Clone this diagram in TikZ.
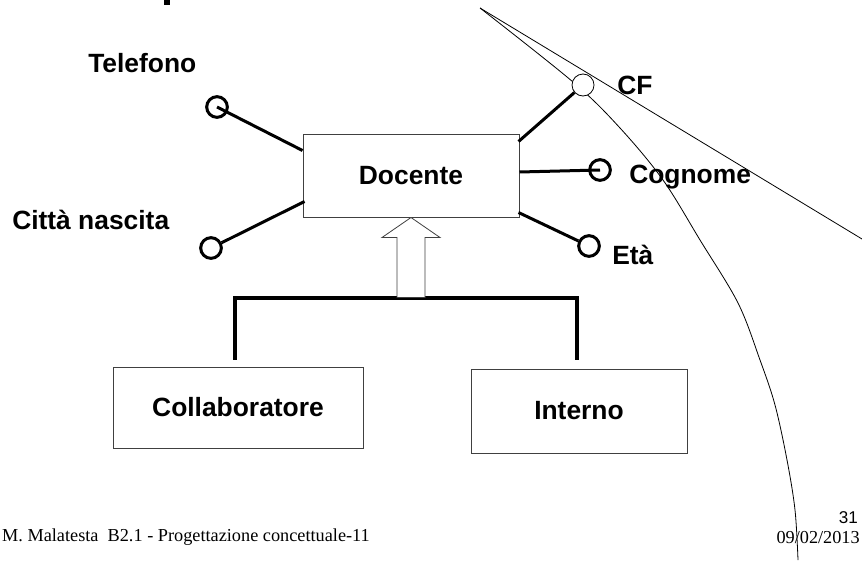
\documentclass[tikz,border=0pt]{standalone}
\usepackage{fontspec}
\setmainfont{Liberation Serif}
\setsansfont{Liberation Sans}
\usetikzlibrary{positioning, calc}
\newcommand{\lblfont}{\sffamily\bfseries\fontsize{19.8}{24}\selectfont}
\tikzset{
  entity/.style={draw=black!75, line width=0.75pt, minimum width=162pt, minimum height=62.25pt, inner sep=0pt, font=\lblfont},
  attr/.style={circle, draw, line width=2.25pt, minimum size=15.5pt, inner sep=0pt},
  pk/.style={circle, draw, line width=0.6pt, fill=white, minimum size=16.5pt, inner sep=0pt},
  attrname/.style={font=\lblfont, inner sep=0pt, anchor=base west},
  link/.style={line width=2.25pt},
  isa/.style={line width=3pt},
  hollow/.style={draw=black!75, line width=0.6pt, fill=white},
  guide/.style={line width=0.6pt},
  foot/.style={inner sep=0pt, anchor=base east, font=\fontsize{13.7}{16}\selectfont},
}

\begin{document}
\begin{tikzpicture}[x=0.75pt, y=-0.75pt]
  \useasboundingbox (0,0) rectangle (862,560);

  % entities
  \node[entity] (doc) at (411,175.5) {Docente};
  \node[entity, minimum width=187.5pt, minimum height=60.75pt] (coll) at (238,407.5) {Collaboratore};
  \node[entity, minimum height=63pt] (int) at (579,411) {Interno};

  % guide lines behind the key
  \coordinate (apex) at (480,8);
  \draw[guide] (apex) -- (862,239);
  \draw[guide] plot[smooth, tension=0.55] coordinates {(480,8) (573,82) (620,128) (663,180) (700,240) (738,303) (760,360) (775,405) (787,460) (795,510) (798,560)};

  % attributes
  \node[attr] (tel) at (217,107) {};
  \node[attr] (cit) at (211,248) {};
  \node[pk] (cf) at (583,85) {};
  \node[attr] (cog) at (600,170) {};
  \node[attr] (eta) at (589,246) {};

  \node[attrname] (teltxt) at (88,73) {Telefono};
  \node[attrname] (cittxt) at (12,229) {Città nascita};
  \node[attrname] (cftxt) at (617,94) {CF};
  \node[attrname] (cogtxt) at (629,183) {Cognome};
  \node[attrname] (etatxt) at (612,264) {Età};

  \draw[link] ($(doc.north west)+(0,17)$) -- (tel.center);
  \draw[link] ($(doc.south west)+(2,-16)$) -- (cit);
  \draw[link] ($(doc.north east)+(-1,8)$) -- (cf);
  \draw[link] ($(doc.east)+(0,-3.5)$) -- (cog.center);
  \draw[link] ($(doc.south east)+(-1,-5)$) -- (eta);

  % generalization
  \draw[isa] ($(coll.north)+(-3,-7)$) -- ++(0,-62) -| ($(int.north)+(-2,-9)$);
  \draw[hollow] (doc.south) -- ++(29,20) -- ++(-15,0) -- ++(0,60) -- ++(-28,0) -- ++(0,-60) -- ++(-15,0) -- cycle;

  % title remnant and footer
  \fill (164,0) rectangle (170,5);
  \node[foot] (author) at (370,541) {M. Malatesta\ \ B2.1 - Progettazione concettuale-11};
  \node[foot, font=\sffamily\fontsize{12.8}{15}\selectfont] (page) at (858,523) {31};
  \node[foot] (date) at (860,543) {09/02/2013};
\end{tikzpicture}
\end{document}
